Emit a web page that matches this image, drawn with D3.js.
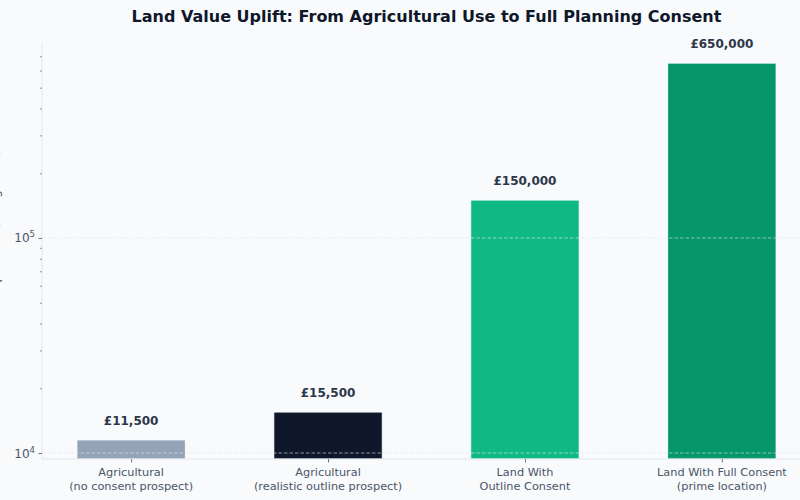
<!DOCTYPE html>
<html><head><meta charset="utf-8">
<script src="https://cdn.jsdelivr.net/npm/d3@7"></script>
<style>html,body{margin:0;padding:0;background:#f8fafc;}svg{display:block;}</style>
</head><body><svg id="c" width="800" height="500"></svg>
<script>
const categories = [
  ["Agricultural", "(no consent prospect)"],
  ["Agricultural", "(realistic outline prospect)"],
  ["Land With", "Outline Consent"],
  ["Land With Full Consent", "(prime location)"]
];
const values = [11500, 15500, 150000, 650000];
const valueLabels = ["£11,500", "£15,500", "£150,000", "£650,000"];
const colors = ["#94a3b8", "#0f172a", "#10b981", "#059669"];
const majorTicks = [1e4, 1e5];
const majorTickExp = ["4", "5"];
const minorTicks = [2e4,3e4,4e4,5e4,6e4,7e4,8e4,9e4,2e5,3e5,4e5,5e5,6e5,7e5];
const title = "Land Value Uplift: From Agricultural Use to Full Planning Consent";
const yLabel = "Land Value per Acre (£, log scale)";

const svg = d3.select("#c");
svg.append("rect").attr("width",800).attr("height",500).attr("fill","#f8fafc");

const pL = 42, pR = 811, pT = 44, pB = 459;
const barW = 0.55;
const x = d3.scaleLinear().domain([-0.4525, 3.4525]).range([pL, pR]);
const y = d3.scaleLog().domain([9380, 798000]).range([pB, pT]);

// bars
svg.append("g").selectAll("rect").data(values).join("rect")
  .attr("x", (d,i) => x(i - barW/2))
  .attr("width", (d,i) => x(i + barW/2) - x(i - barW/2))
  .attr("y", d => y(d))
  .attr("height", d => pB - y(d))
  .attr("fill", (d,i) => colors[i])
  .attr("stroke", "#ffffff").attr("stroke-width", 0.8);

// grid (on top)
svg.append("g").selectAll("line").data(majorTicks).join("line")
  .attr("x1", pL).attr("x2", 800)
  .attr("y1", d => y(d)).attr("y2", d => y(d))
  .attr("stroke", "#e2e8f0").attr("stroke-opacity", 0.75)
  .attr("stroke-width", 0.8).attr("stroke-dasharray", "3.5,2");

// spines
svg.append("line").attr("x1", pL).attr("x2", pL).attr("y1", pT).attr("y2", pB)
  .attr("stroke", "#e2e8f0").attr("stroke-width", 1);
svg.append("line").attr("x1", pL).attr("x2", 800).attr("y1", pB).attr("y2", pB)
  .attr("stroke", "#e2e8f0").attr("stroke-width", 1);

// y ticks
const yAxisMajor = d3.axisLeft(y).tickValues(majorTicks).tickSize(3.5).tickFormat("");
const gy = svg.append("g").attr("transform", `translate(${pL},0)`).call(yAxisMajor);
gy.select(".domain").remove();
gy.selectAll(".tick line").attr("stroke", "#4a5568").attr("stroke-width", 0.8);
const yAxisMinor = d3.axisLeft(y).tickValues(minorTicks).tickSize(2).tickFormat("");
const gym = svg.append("g").attr("transform", `translate(${pL},0)`).call(yAxisMinor);
gym.select(".domain").remove();
gym.selectAll(".tick line").attr("stroke", "#4a5568").attr("stroke-width", 0.6);

const ylab = svg.append("g").selectAll("text").data(majorTicks).join("text")
  .attr("x", 35).attr("y", d => y(d) + 4.5)
  .attr("text-anchor", "end")
  .attr("font-family", "DejaVu Sans").attr("font-size", 12).attr("fill", "#4a5568");
ylab.append("tspan").text("10");
ylab.append("tspan").attr("dy", -5).attr("font-size", 8.5).text((d,i) => majorTickExp[i]);

// x ticks
const xAxis = d3.axisBottom(x).tickValues(d3.range(categories.length)).tickSize(3.5).tickFormat("");
const gx = svg.append("g").attr("transform", `translate(0,${pB})`).call(xAxis);
gx.select(".domain").remove();
gx.selectAll(".tick line").attr("stroke", "#4a5568").attr("stroke-width", 0.8);

const xl = svg.append("g").selectAll("text").data(categories).join("text")
  .attr("text-anchor", "middle")
  .attr("font-family", "DejaVu Sans").attr("font-size", 11.3).attr("fill", "#4a5568");
xl.append("tspan").attr("x", (d,i) => x(i)).attr("y", 476).text(d => d[0]);
xl.append("tspan").attr("x", (d,i) => x(i)).attr("y", 489.5).text(d => d[1]);

// value labels
svg.append("g").selectAll("text").data(values).join("text")
  .attr("x", (d,i) => x(i)).attr("y", d => y(d) - 15)
  .attr("text-anchor", "middle")
  .attr("font-family", "DejaVu Sans").attr("font-weight", "bold")
  .attr("font-size", 12).attr("fill", "#2d3748")
  .text((d,i) => valueLabels[i]);

// title
svg.append("text").attr("x", (pL + pR)/2).attr("y", 21.5)
  .attr("text-anchor", "middle")
  .attr("font-family", "DejaVu Sans").attr("font-weight", "bold")
  .attr("font-size", 16).attr("fill", "#0f172a").text(title);

// y label (mostly off canvas, as in the reference)
svg.append("text")
  .attr("transform", `translate(-1,${(pT+pB)/2}) rotate(-90)`)
  .attr("text-anchor", "middle")
  .attr("font-family", "DejaVu Sans").attr("font-size", 12).attr("fill", "#4a5568")
  .text(yLabel);
</script></body></html>
